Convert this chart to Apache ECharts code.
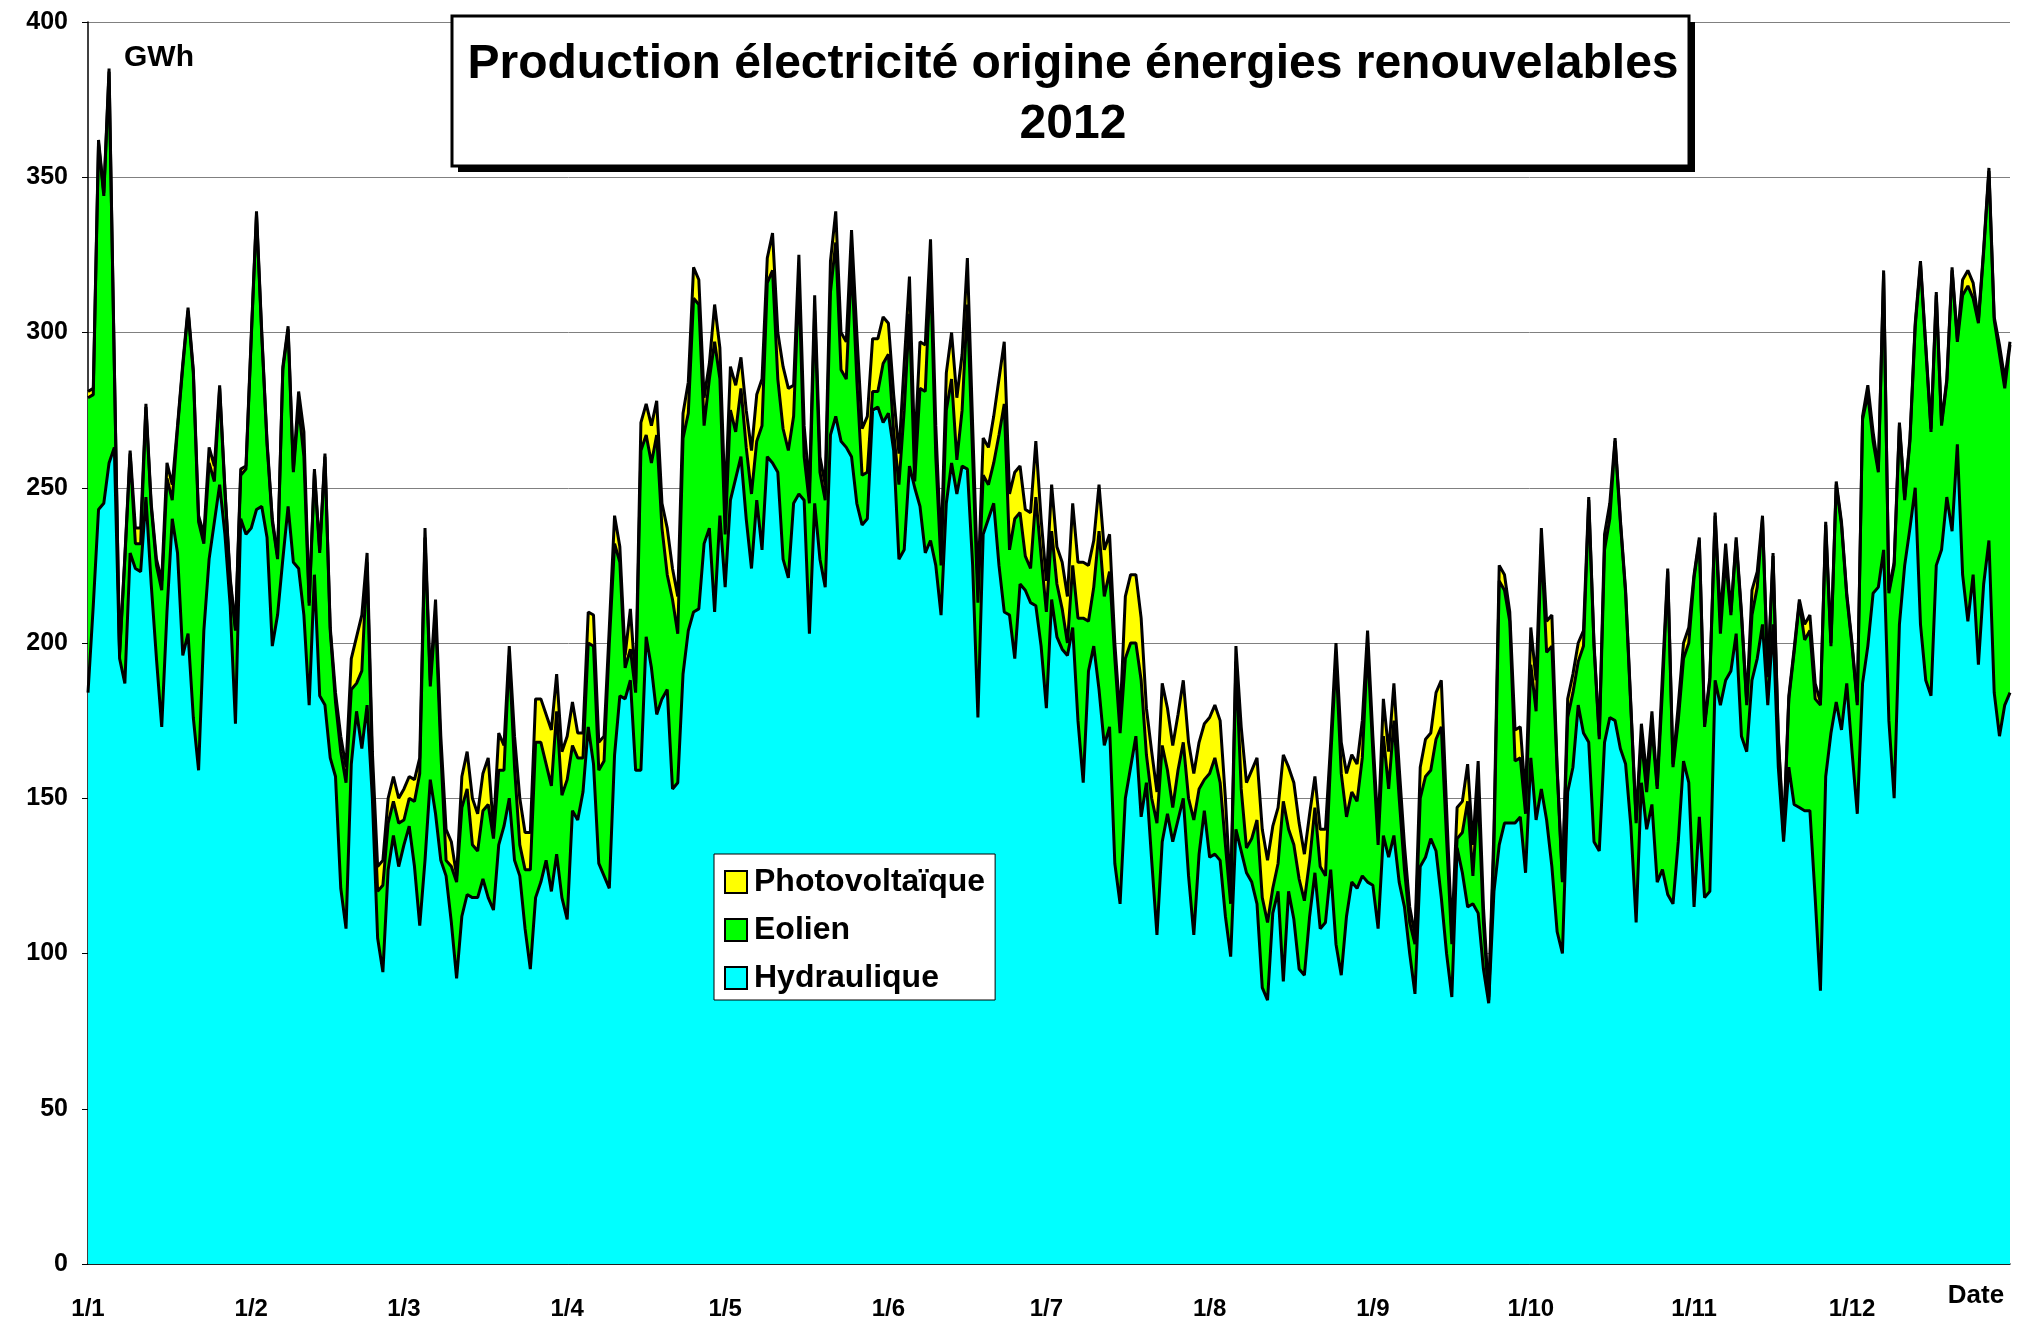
<!DOCTYPE html>
<html>
<head>
<meta charset="utf-8">
<script src="https://cdn.jsdelivr.net/npm/echarts/dist/echarts.min.js"></script>
<style>
  html, body { margin: 0; padding: 0; background: #fff; }
  #chart { width: 2033px; height: 1328px; }
</style>
</head>
<body>
<div id="chart"></div>
<script>
// jours par mois (2012, bissextile) et libelles des mois
var monthDays = [31, 29, 31, 30, 31, 30, 31, 31, 30, 31, 30, 31];
var monthLabels = ['1/1', '1/2', '1/3', '1/4', '1/5', '1/6', '1/7', '1/8', '1/9', '1/10', '1/11', '1/12'];
var yTicks = [0, 50, 100, 150, 200, 250, 300, 350, 400];

// GWh par jour
var hydraulique = [
  184,212,243,245,258,263,195,187,229,224,223,247,219,195,173,210,240,229,196,203,176,159,204,227,239,251,235,212,174,240,235,
  237,243,244,234,199,209,227,244,226,224,209,180,222,183,180,163,157,121,108,161,178,166,180,150,105,94,127,138,128,
  135,141,128,109,130,156,145,130,125,110,92,112,119,118,118,124,118,114,135,141,150,130,125,108,95,118,123,130,120,132,118,
  111,146,143,152,173,161,129,125,121,164,183,182,188,159,159,202,192,177,182,185,153,155,190,204,210,211,232,237,210,241,
  218,246,253,260,240,224,246,230,260,258,255,227,221,245,248,246,203,245,227,218,267,273,265,263,260,245,238,240,275,276,271,
  274,262,227,230,257,250,244,229,233,225,209,245,258,248,257,256,225,176,235,240,245,225,210,209,195,219,217,213,212,199,
  179,214,202,198,196,205,175,155,191,199,185,167,173,129,116,150,160,170,144,155,130,106,136,145,136,143,150,125,106,132,146,
  131,132,130,112,99,140,133,126,123,116,89,85,113,120,91,120,111,95,93,112,126,108,110,127,103,93,112,123,121,125,123,
  122,108,138,131,138,123,115,100,87,128,131,137,133,118,100,86,134,126,115,116,113,95,84,120,135,142,142,142,144,126,
  163,143,153,143,128,107,100,152,160,180,171,168,136,133,168,176,175,166,161,141,110,155,140,148,123,127,119,116,136,162,155,
  115,144,118,120,188,180,188,191,203,170,165,188,195,206,180,206,160,136,160,148,147,146,146,118,88,157,171,181,172,187,
  165,145,187,199,216,218,230,175,150,206,225,237,250,206,188,183,225,230,247,236,264,222,207,222,193,219,233,184,170,180,184
];
var eolien = [
  95,68,118,99,126,26,1,40,32,8,9,29,25,30,44,43,6,40,93,104,111,80,28,31,13,31,14,8,30,14,21,
  61,95,55,30,40,18,61,57,29,52,51,32,33,46,80,41,24,44,47,24,9,25,46,10,15,28,15,11,14,
  8,9,21,49,104,30,64,35,5,18,31,35,34,17,15,22,30,23,24,18,46,30,10,19,32,50,45,31,34,46,33,
  45,21,20,11,27,38,30,37,79,68,43,10,10,25,103,65,66,90,55,37,61,48,76,70,101,98,38,48,87,44,
  17,29,15,22,23,24,19,40,56,62,30,42,41,28,69,14,42,62,28,28,46,56,23,22,63,40,16,15,6,5,19,
  19,6,24,45,49,2,38,52,87,35,16,30,27,11,18,53,35,37,19,11,13,42,67,21,45,23,11,11,35,29,
  31,22,17,13,4,20,33,53,16,19,51,48,50,66,55,45,40,30,44,9,20,36,31,14,11,16,18,25,37,21,10,
  27,31,25,23,17,54,20,8,14,27,29,25,8,9,58,20,24,29,24,18,21,20,15,36,92,65,32,29,28,38,76,
  43,27,32,22,37,27,12,10,16,22,26,22,36,55,37,17,3,13,34,9,39,15,1,15,85,75,65,20,19,19,
  30,35,79,54,71,52,23,24,24,14,28,78,63,36,62,64,90,73,55,38,32,14,12,25,30,58,104,44,39,33,45,
  106,89,55,68,53,23,39,18,30,39,15,21,23,34,9,22,9,2,22,49,66,55,58,64,92,81,28,70,66,28,
  34,35,85,81,49,37,89,41,75,64,21,28,52,116,107,85,87,40,37,84,33,90,108,89,110,107,119,120,123,102,112
];
var photovoltaique = [
  2,2,1,1,1,1,1,1,1,5,5,1,1,2,3,5,5,1,1,1,1,2,3,5,5,1,1,1,1,2,1,
  1,1,1,1,1,1,1,1,1,5,8,1,1,1,1,1,3,5,5,10,15,18,3,5,8,8,8,8,8,
  10,7,7,5,3,2,5,5,10,8,2,10,12,15,12,12,15,3,12,8,3,10,15,12,12,14,14,16,18,12,14,
  14,14,8,8,10,10,9,8,5,9,5,4,13,3,9,10,12,11,8,15,10,12,8,10,10,8,9,5,12,10,
  10,14,15,10,12,14,15,15,8,12,15,20,20,10,8,10,5,5,5,5,10,10,12,12,10,15,15,18,17,17,15,
  10,12,10,15,12,10,15,15,10,10,5,12,15,20,18,15,10,5,12,12,15,18,20,18,15,15,15,18,18,12,
  10,15,12,15,15,20,18,18,18,15,15,15,12,5,5,20,22,22,20,15,15,10,20,20,20,18,20,18,15,15,18,
  18,17,20,15,3,5,20,21,22,20,22,20,20,18,15,20,20,18,15,15,10,12,15,5,5,10,14,12,12,12,5,
  5,5,12,12,12,10,8,5,3,10,12,12,15,15,10,3,10,10,12,10,10,5,1,5,5,5,3,10,10,5,
  12,10,5,10,10,1,1,6,6,6,5,1,1,1,5,5,1,1,1,1,1,5,5,5,1,5,1,1,5,5,5,
  1,1,1,1,1,5,5,1,1,1,1,8,5,1,1,1,1,1,1,1,1,5,5,5,1,1,1,1,1,1,
  1,1,1,3,3,1,1,1,1,1,1,1,1,1,1,1,1,1,1,1,1,5,5,5,1,1,1,1,3,3,1
];

// categories jour/mois
var days = [];
var monthStarts = [];
for (var m = 0; m < monthDays.length; m++) {
  monthStarts.push(days.length);
  for (var d = 1; d <= monthDays[m]; d++) {
    days.push(d + '/' + (m + 1));
  }
}

var FONT = '"Liberation Sans", Arial, sans-serif';

function areaSerie(name, data, color) {
  return {
    name: name,
    type: 'line',
    stack: 'total',
    data: data,
    symbol: 'none',
    showSymbol: false,
    silent: true,
    lineStyle: { color: '#000', width: 3 },
    itemStyle: { color: color },
    areaStyle: { color: color, opacity: 1 },
  };
}

var chart = echarts.init(document.getElementById('chart'));
chart.setOption({
  animation: false,
  backgroundColor: '#fff',
  grid: { left: 88, right: 23, top: 22, bottom: 64 },
  legend: {
    orient: 'vertical',
    left: 714,
    top: 854,
    padding: [12, 10, 6, 10],
    itemGap: 16,
    itemWidth: 22,
    itemHeight: 22,
    icon: 'rect',
    backgroundColor: '#fff',
    borderColor: '#000',
    borderWidth: 1,
    textStyle: { fontFamily: FONT, fontWeight: 'bold', fontSize: 32, color: '#000', padding: [0, 0, 0, 2] },
    data: [
      { name: 'Photovoltaïque', itemStyle: { color: '#ffff00', borderColor: '#000', borderWidth: 2 } },
      { name: 'Eolien', itemStyle: { color: '#00ff00', borderColor: '#000', borderWidth: 2 } },
      { name: 'Hydraulique', itemStyle: { color: '#00ffff', borderColor: '#000', borderWidth: 2 } },
    ],
  },
  xAxis: {
    type: 'category',
    boundaryGap: false,
    data: days,
    axisLine: { lineStyle: { color: '#000', width: 1.5 } },
    axisTick: { show: false },
    axisLabel: {
      interval: function(i) { return monthStarts.indexOf(i) !== -1; },
      formatter: function(v, i) { return monthLabels[monthStarts.indexOf(i)] || v; },
      color: '#000',
      fontFamily: FONT,
      fontWeight: 'bold',
      fontSize: 24,
      margin: 33,
    },
    splitLine: { show: false },
  },
  yAxis: {
    type: 'value',
    min: yTicks[0],
    max: yTicks[yTicks.length - 1],
    interval: 50,
    axisLine: { show: true, lineStyle: { color: '#000', width: 1.5 } },
    axisTick: { show: true, length: 6, lineStyle: { color: '#000' } },
    axisLabel: { color: '#000', fontFamily: FONT, fontWeight: 'bold', fontSize: 25, margin: 20 },
    splitLine: { lineStyle: { color: '#808080', width: 1 } },
  },
  series: [
    areaSerie('Hydraulique', hydraulique, '#00ffff'),
    areaSerie('Eolien', eolien, '#00ff00'),
    areaSerie('Photovoltaïque', photovoltaique, '#ffff00'),
  ],
  graphic: [
    { type: 'rect', z: 100, shape: { x: 458, y: 22, width: 1237, height: 150 }, style: { fill: '#000' } },
    { type: 'rect', z: 101, shape: { x: 452, y: 16, width: 1237, height: 150 }, style: { fill: '#fff', stroke: '#000', lineWidth: 3 } },
    {
      type: 'text', z: 102, x: 1073, y: 65,
      style: {
        text: 'Production électricité origine énergies renouvelables',
        font: 'bold 48px ' + FONT, fill: '#000',
        textAlign: 'center', textVerticalAlign: 'middle', align: 'center', verticalAlign: 'middle',
      },
    },
    {
      type: 'text', z: 102, x: 1073, y: 125,
      style: {
        text: '2012',
        font: 'bold 48px ' + FONT, fill: '#000',
        textAlign: 'center', textVerticalAlign: 'middle', align: 'center', verticalAlign: 'middle',
      },
    },
    {
      type: 'text', z: 102, x: 124, y: 58,
      style: { text: 'GWh', font: 'bold 30px ' + FONT, fill: '#000', textVerticalAlign: 'middle', verticalAlign: 'middle' },
    },
    {
      type: 'text', z: 102, x: 1976, y: 1296,
      style: {
        text: 'Date', font: 'bold 26px ' + FONT, fill: '#000',
        textAlign: 'center', textVerticalAlign: 'middle', align: 'center', verticalAlign: 'middle',
      },
    },
  ],
});
</script>
</body>
</html>
